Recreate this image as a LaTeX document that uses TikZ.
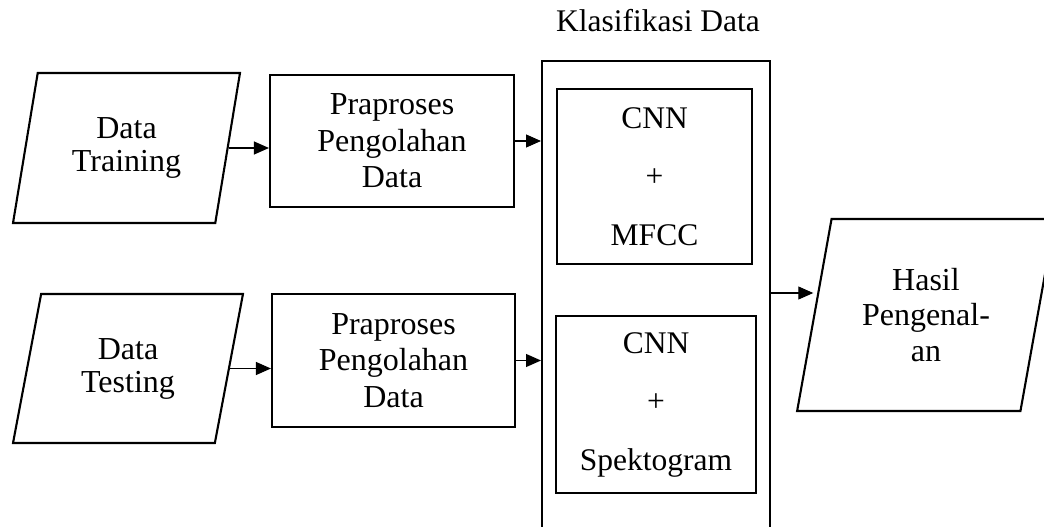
\documentclass[tikz,border=0pt]{standalone}
\usepackage{fontspec}
\setmainfont{Liberation Serif}
\usetikzlibrary{shapes.geometric,arrows.meta}

\begin{document}
\begin{tikzpicture}[x=1pt,y=-1pt,
  io/.style={trapezium, trapezium left angle=76, trapezium right angle=104,
    trapezium stretches=true, draw, line width=2.1pt, align=center, inner sep=0pt},
  proc/.style={rectangle, draw, line width=2.1pt, align=center, inner sep=0pt},
  method/.style={rectangle, draw, line width=1.2pt, align=center, inner sep=0pt,
    font=\fontsize{31.5}{58.5}\selectfont},
  arr/.style={-{Triangle[length=15pt,width=13pt]}, line width=1.1pt},
  font=\fontsize{32}{36.5}\selectfont]
\useasboundingbox (0,0) rectangle (1044,527);

% inputs
\node[io, minimum width=227pt, minimum height=150pt, font=\fontsize{32}{33}\selectfont]
  (dtr) at (126.5,148) {Data\\Training};
\node[io, minimum width=230pt, minimum height=149pt, font=\fontsize{32}{33}\selectfont]
  (dts) at (128,368.5) {Data\\Testing};

% preprocessing
\node[proc, minimum width=244pt, minimum height=132pt] (pp1) at (392,141)
  {Praproses\\Pengolahan\\Data};
\node[proc, minimum width=243pt, minimum height=133pt] (pp2) at (393.5,360.5)
  {Praproses\\Pengolahan\\Data};

% classification
\node[draw, line width=2.3pt, minimum width=228pt, minimum height=500pt,
  anchor=north west, inner sep=0pt] (kd) at (541,60) {};
\node[anchor=base, font=\fontsize{31.5}{36}\selectfont] (title) at (658,32) {Klasifikasi Data};
\node[method, minimum width=195pt, minimum height=175pt] (c1) at (654.5,176.5)
  {CNN\\+\\MFCC};
\node[method, minimum width=200pt, minimum height=177pt] (c2) at (656,404.5)
  {CNN\\+\\Spektogram};

% output
\node[io, minimum width=258pt, minimum height=192pt, font=\fontsize{32}{35.5}\selectfont]
  (hasil) at (926,315) {Hasil\\Pengenal-\\an};

% connectors
\draw[arr] (dtr.east) -- (dtr.east -| pp1.west);
\draw[arr] (dts.east) -- (dts.east -| pp2.west);
\draw[arr] (pp1.east) -- (pp1.east -| kd.west);
\draw[arr] (pp2.east) -- (pp2.east -| kd.west);
\draw[arr] (kd.east |- 0,293) -- (hasil.west |- 0,293);
\end{tikzpicture}
\end{document}
